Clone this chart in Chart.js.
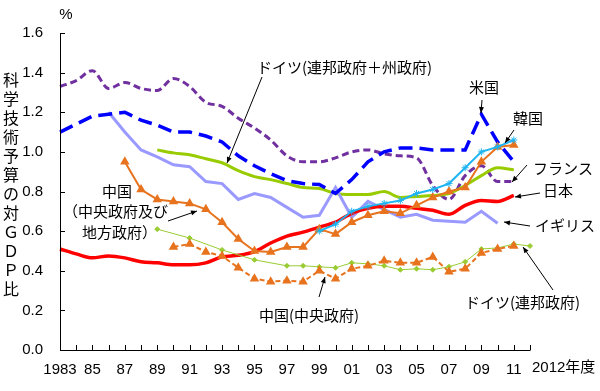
<!DOCTYPE html>
<html><head><meta charset="utf-8">
<script src="https://cdn.jsdelivr.net/npm/chart.js@4"></script>
<style>html,body{margin:0;padding:0;background:#fff}#wrap{width:600px;height:391px;position:relative}</style>
</head><body><div id="wrap"><canvas id="c"></canvas></div>
<script>
const years = [1983,1984,1985,1986,1987,1988,1989,1990,1991,1992,1993,1994,1995,1996,1997,1998,1999,2000,2001,2002,2003,2004,2005,2006,2007,2008,2009,2010,2011,2012];
const yTicks = [0,0.2,0.4,0.6,0.8,1.0,1.2,1.4,1.6];
const japan = [0.51,0.485,0.465,0.475,0.465,0.445,0.44,0.43,0.43,0.44,0.47,0.478,0.497,0.54,0.575,0.595,0.62,0.645,0.69,0.715,0.725,0.725,0.715,0.705,0.685,0.73,0.755,0.75,0.78,null];
const usa = [1.10,1.14,1.18,1.19,1.20,1.16,1.135,1.10,1.10,1.08,1.05,0.98,0.93,0.89,0.855,0.84,0.835,0.79,0.86,0.95,1.00,1.02,1.02,1.01,1.01,1.01,1.19,1.05,0.95,null];
const france = [1.33,1.36,1.41,1.32,1.35,1.32,1.31,1.37,1.33,1.25,1.23,1.17,1.12,1.06,0.98,0.95,0.95,0.97,1.00,1.01,0.99,0.98,0.97,0.83,0.76,0.88,0.93,0.85,0.85,null];
const germany = [null,null,null,null,null,null,1.01,0.995,0.985,0.965,0.945,0.905,0.875,0.86,0.84,0.82,0.815,0.79,0.785,0.785,0.80,0.77,0.775,0.78,0.79,0.83,0.88,0.92,0.91,null];
const uk = [null,null,null,1.20,1.10,1.01,0.975,0.935,0.925,0.85,0.84,0.76,0.79,0.77,0.72,0.67,0.68,0.82,0.67,0.75,0.71,0.67,0.685,0.655,0.65,0.645,0.70,0.64,null,null];
const korea = [null,null,null,null,null,null,null,null,null,null,null,null,null,null,null,null,0.60,0.635,0.70,0.725,0.74,0.755,0.79,0.81,0.84,0.92,1.00,1.025,1.06,null];
const chinaAll = [null,null,null,null,0.95,0.81,0.76,0.75,0.74,0.71,0.645,0.56,0.50,0.495,0.52,0.52,0.61,0.585,0.645,0.68,0.70,0.69,0.73,0.77,0.80,0.82,0.95,1.025,1.035,null];
const chinaCentral = [null,null,null,null,null,null,null,0.52,0.535,0.495,0.475,0.415,0.36,0.345,0.35,0.345,0.40,0.36,0.41,0.425,0.45,0.44,0.44,0.47,0.395,0.41,0.49,0.51,0.525,null];
const germanyFed = [null,null,null,null,null,null,0.61,null,0.565,null,0.505,null,0.455,null,0.425,0.425,0.42,0.415,0.44,0.435,0.425,0.405,0.41,0.405,0.42,0.445,0.51,0.515,0.535,0.525];

const JP = '"Noto Sans CJK JP"';
const labels = [
  {t:'ドイツ(連邦政府＋州政府)', x:257, y:67, a:[262,77,227,163]},
  {t:'米国', x:469, y:87, a:[482,100,481,113]},
  {t:'韓国', x:513, y:118, a:[514,130,505,143]},
  {t:'フランス', x:533, y:168, a:[527,165,512,182]},
  {t:'日本', x:543, y:190, a:[540,193,515,197]},
  {t:'イギリス', x:535, y:225, a:[530,226,504,222]},
  {t:'ドイツ(連邦政府)', x:465, y:302, a:[553,290,523,247]},
  {t:'中国(中央政府)', x:259, y:315, a:[319,297,325,277]},
  {t:'中国', x:102, y:191},
  {t:'（中央政府及び', x:63, y:211},
  {t:'地方政府）', x:82, y:232, a:[168,221,197,211]}
];
const yTitle = '科学技術予算の対ＧＤＰ比';

function arrow(ctx,x1,y1,x2,y2){
  ctx.beginPath(); ctx.moveTo(x1,y1); ctx.lineTo(x2,y2); ctx.stroke();
  const ang=Math.atan2(y2-y1,x2-x1), L=6, W=2.5;
  ctx.beginPath();
  ctx.moveTo(x2,y2);
  ctx.lineTo(x2-L*Math.cos(ang)+W*Math.sin(ang), y2-L*Math.sin(ang)-W*Math.cos(ang));
  ctx.lineTo(x2-L*Math.cos(ang)-W*Math.sin(ang), y2-L*Math.sin(ang)+W*Math.cos(ang));
  ctx.closePath(); ctx.fill();
}

const annot = {
  id:'annot',
  afterDraw(chart){
    const ctx=chart.ctx, xs=chart.scales.x, ys=chart.scales.y, a=chart.chartArea;
    ctx.save();
    ctx.strokeStyle='#000'; ctx.fillStyle='#000'; ctx.lineWidth=1;
    ctx.beginPath();
    ctx.moveTo(a.left+0.5, ys.getPixelForValue(1.6));
    ctx.lineTo(a.left+0.5, a.bottom+0.5);
    ctx.lineTo(xs.getPixelForValue(years.length-1)+0.5, a.bottom+0.5);
    years.forEach((y,i)=>{const px=Math.round(xs.getPixelForValue(i))+0.5; ctx.moveTo(px,a.bottom); ctx.lineTo(px,a.bottom-5);});
    yTicks.forEach(v=>{const py=Math.round(ys.getPixelForValue(v))+0.5; ctx.moveTo(a.left,py); ctx.lineTo(a.left+5,py);});
    ctx.stroke();
    ctx.textBaseline='middle';
    ctx.font='15px "Liberation Sans", Arial';
    ctx.textAlign='center';
    ctx.fillText('%', 66, 15);
    ctx.font='16px '+JP;
    [...yTitle].forEach((ch,i)=>ctx.fillText(ch, 11, 80+i*19));
    ctx.textAlign='left';
    ctx.font='15px "Liberation Sans", '+JP;
    ctx.fillText('2012年度', 532, 368);
    ctx.font='15px '+JP;
    labels.forEach(l=>{
      ctx.fillText(l.t, l.x, l.y);
      if(l.a) arrow(ctx,...l.a);
    });
    ctx.restore();
  }
};

function ds(label,data,o){return Object.assign({label,data,fill:false,spanGaps:true,pointRadius:0,borderWidth:3,tension:0},o);}

new Chart(document.getElementById('c'),{
  type:'line',
  data:{
    labels:years,
    datasets:[
      ds('韓国',korea,{borderColor:'#1EB4F0',borderWidth:2,pointStyle:'star',pointRadius:3.5,pointBorderColor:'#1EB4F0',pointBorderWidth:1}),
      ds('中国(中央政府及び地方政府)',chinaAll,{borderColor:'#E8731E',borderWidth:2,pointStyle:'triangle',pointRadius:3.5,pointBackgroundColor:'#E8731E',pointBorderColor:'#E8731E'}),
      ds('中国(中央政府)',chinaCentral,{borderColor:'#E8731E',borderWidth:2,borderDash:[5,3],pointStyle:'triangle',pointRadius:3.5,pointBackgroundColor:'#E8731E',pointBorderColor:'#E8731E'}),
      ds('ドイツ(連邦政府)',germanyFed,{borderColor:'#99CC33',borderWidth:1,pointStyle:'rectRot',pointRadius:2.5,pointBackgroundColor:'#99CC33',pointBorderColor:'#99CC33'}),
      ds('日本',japan,{borderColor:'#FF0000',borderWidth:3.5,cubicInterpolationMode:'monotone'}),
      ds('米国',usa,{borderColor:'#0000FF',borderWidth:3.5,borderDash:[14,7]}),
      ds('イギリス',uk,{borderColor:'#9999FF',borderWidth:3}),
      ds('ドイツ(連邦政府＋州政府)',germany,{borderColor:'#99CC00',borderWidth:3,cubicInterpolationMode:'monotone'}),
      ds('フランス',france,{borderColor:'#7030A0',borderWidth:3,borderDash:[7,4],cubicInterpolationMode:'monotone'})
    ]
  },
  options:{
    responsive:true, maintainAspectRatio:false, animation:false, devicePixelRatio:1,
    layout:{padding:{top:33,right:70,left:0,bottom:0}},
    plugins:{legend:{display:false},tooltip:{enabled:false}},
    scales:{
      x:{type:'category',offset:false,grid:{display:false,drawTicks:false},border:{display:false},
        afterFit(s){s.height=41;},
        ticks:{autoSkip:false,maxRotation:0,minRotation:0,padding:11,color:'#000',font:{family:'"Liberation Sans", Arial',size:15},
          callback(v,i){const y=years[i]; if(y===1983) return '1983'; if(y%2===1) return String(y).slice(2); return '';}}},
      y:{min:0,max:1.6,grid:{display:false,drawTicks:false},border:{display:false},
        afterFit(s){s.width=60;},
        afterBuildTicks(s){s.ticks=yTicks.map(v=>({value:v}));},
        ticks:{padding:17,color:'#000',font:{family:'"Liberation Sans", Arial',size:15},callback(v){return v.toFixed(1);}}}
    }
  },
  plugins:[annot]
});
</script></body></html>
